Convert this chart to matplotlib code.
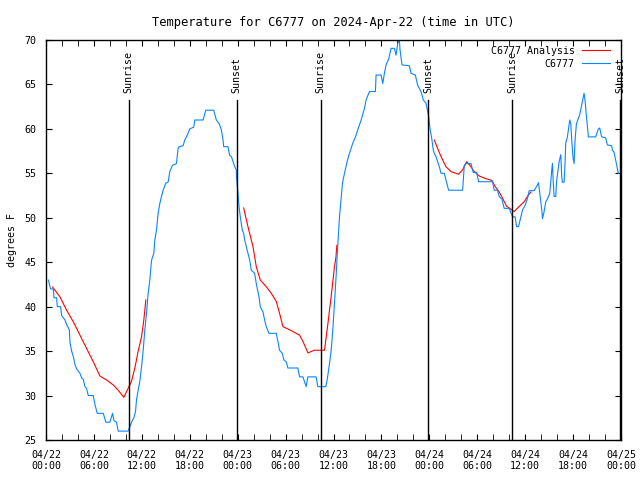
import numpy as np
import pandas as pd
import matplotlib
matplotlib.use('Agg')
import matplotlib.pyplot as plt
import matplotlib.dates as mdates

## observed temperature (hours after 2024-04-22 00:00 UTC, deg F)
obs_hours = [0.29, 0.58, 0.92, 1.0, 1.33, 1.42, 1.83, 1.96, 2.375, 2.58, 2.92, 3.0, 3.21, 3.42, 3.625, 3.83,
             4.25, 4.46, 4.67, 4.875, 5.08, 5.29, 5.92, 6.125, 6.42, 7.17, 7.5, 8.0, 8.33, 8.5, 8.83, 9.04,
             10.29, 10.5, 10.71, 11.0, 11.21, 11.33, 11.54, 11.75, 11.96, 12.17, 12.375, 12.58, 12.79, 13.0,
             13.21, 13.5, 13.625, 13.83, 14.04, 14.25, 14.46, 14.67, 15.0, 15.29, 15.5, 15.83, 16.33, 16.54,
             16.67, 17.17, 17.375, 17.58, 17.79, 18.0, 18.5, 18.625, 19.67, 20.0, 21.0, 21.33, 21.67, 21.96,
             22.17, 22.25, 22.79, 23.0, 23.21, 23.42, 23.625, 23.83, 23.85, 24.04,
             24.17, 24.33, 24.58, 24.75, 24.875, 25.08, 25.29, 25.5, 25.71, 26.125, 26.33, 26.67, 26.83,
             27.17, 27.375, 27.58, 27.92, 28.83, 29.04, 29.25, 29.58, 29.79, 30.08, 30.29, 31.54, 31.75,
             32.17, 32.58, 32.79, 33.83, 34.04, 35.04, 35.25, 35.5, 35.71, 35.92, 36.125, 36.33,
             36.5, 36.75, 37.125, 37.375, 37.75, 38.0, 38.42, 38.75, 39.04, 39.46, 39.875, 40.08,
             40.5, 41.25, 41.33, 41.96, 42.17, 42.375, 42.58, 42.92, 43.21, 43.625, 43.83, 44.04, 44.25,
             44.33, 44.58, 45.5, 45.71, 46.25, 46.54, 46.96, 47.25, 47.58, 47.92,
             48.08, 48.33, 48.5, 48.625, 48.83, 49.04, 49.25, 49.46, 49.875, 50.08, 50.42, 52.17, 52.375,
             52.58, 53.21, 53.5, 53.92, 54.17, 55.92, 56.125, 56.54, 56.75, 57.08, 57.375, 58.0, 58.42,
             58.75, 58.92, 59.17, 59.67, 60.0, 60.29, 60.5, 61.125, 61.54, 61.67, 61.83, 62.08, 62.17,
             62.375, 62.58, 62.79, 63.08, 63.33, 63.42, 63.5, 63.625, 63.83, 63.92, 64.25, 64.46, 64.58,
             64.67, 64.875, 65.0, 65.08, 65.29, 65.58, 65.71, 65.83, 66.0, 66.125, 66.25, 66.42, 66.67,
             66.83, 67.08, 67.375, 67.5, 67.67, 67.92, 68.83, 69.17, 69.33, 69.58, 70.08, 70.29, 70.83,
             70.92, 71.125, 71.33, 71.54, 71.67]
obs_temps = [43.0, 42.0, 42.0, 41.0, 41.0, 40.0, 40.0, 39.0, 38.5, 38.0, 37.4, 36.0, 35.0, 34.4, 33.5, 33.0,
             32.5, 32.0, 31.8, 31.0, 30.8, 30.0, 30.0, 29.0, 28.0, 28.0, 27.0, 27.0, 28.0, 27.2, 27.0, 26.0,
             26.0, 26.5, 27.0, 27.5, 28.2, 29.5, 30.6, 31.6, 33.2, 35.1, 37.4, 39.2, 41.5, 43.0,
             45.2, 46.0, 47.5, 48.6, 50.5, 51.6, 52.4, 53.1, 53.9, 54.0, 55.2, 55.9, 56.1, 57.8,
             58.0, 58.1, 58.75, 59.1, 59.5, 60.0, 60.2, 61.0, 61.0, 62.1, 62.1, 61.0, 60.6, 59.9,
             58.75, 58.0, 58.0, 57.0, 56.9, 56.3, 55.75, 55.4, 54.6, 52.75,
             51.25, 50.1, 48.6, 48.25, 47.5, 46.75, 46.0, 45.25, 44.1, 43.75, 42.6, 41.1, 40.0,
             39.4, 38.5, 37.75, 37.0, 37.0, 36.1, 35.1, 34.75, 34.0, 33.8, 33.1, 33.1, 32.1,
             32.1, 31.0, 32.1, 32.1, 31.0, 31.0, 32.0, 33.6, 35.1, 37.5, 40.4, 43.5,
             46.4, 50.1, 53.9, 55.0, 56.5, 57.25, 58.4, 59.1, 59.9, 61.0, 62.3, 63.25,
             64.2, 64.2, 66.06, 66.06, 65.1, 66.25, 67.2, 67.9, 69.06, 69.06, 68.3, 69.6, 70.0,
             68.9, 67.2, 67.1, 66.25, 66.06, 64.9, 64.2, 63.25, 62.9, 61.4,
             60.06, 58.75, 57.6, 57.25, 56.9, 56.3, 55.75, 55.0, 55.0, 54.25, 53.1, 53.1, 55.9,
             56.1, 56.1, 55.1, 55.1, 54.06, 54.06, 53.1, 53.1, 52.4, 52.1, 51.06, 51.06, 50.1,
             50.1, 49.0, 49.0, 50.9, 51.4, 52.2, 53.05, 53.05, 53.7, 53.95, 52.75, 50.9, 49.9,
             50.7, 51.8, 52.1, 52.75, 55.4, 56.1, 54.25, 52.4, 52.4, 54.0, 56.3, 57.1, 54.6,
             54.0, 54.0, 56.3, 58.4, 59.1, 61.0, 60.6, 58.75, 56.7, 56.1, 58.75, 60.6, 61.2,
             61.6, 62.7, 64.0, 63.2, 61.4, 59.1, 59.1, 60.0, 60.1, 59.1, 59.0, 58.2, 58.1,
             57.6, 57.4, 56.5, 55.6, 55.0]

## analysis, three pieces (NaN breaks the line)
ana_hours = [0.83, 1.75, 2.58, 3.42, 4.25, 5.08, 5.92, 6.75, 7.58, 8.42, 9.04, 9.75, 10.17, 10.71, 11.125,
             11.54, 11.96, 12.25, 12.5, 18.0,
             24.75, 25.29, 25.92, 26.33, 26.83, 27.58, 28.21, 28.83, 29.25, 29.67, 30.5, 31.75, 32.17,
             32.8, 33.6, 34.875, 35.3, 35.7, 36.125, 36.3, 36.42, 42.0,
             48.625, 49.04, 49.46, 50.08, 50.71, 51.67, 52.17, 52.67, 53.08, 53.625, 54.25, 55.08, 55.83,
             56.25, 56.75, 57.17, 57.67, 58.08, 58.625, 59.17, 59.875, 60.29, 60.71]
ana_temps = [42.2, 41.1, 39.6, 38.3, 36.8, 35.3, 33.8, 32.2, 31.75, 31.2, 30.6, 29.8, 30.6, 31.6, 33.1,
             35.0, 36.6, 38.5, 40.75, np.nan,
             51.1, 49.0, 46.75, 44.5, 43.0, 42.25, 41.5, 40.6, 39.25, 37.75, 37.4, 36.8, 36.1,
             34.8, 35.1, 35.1, 38.1, 41.1, 44.5, 45.5, 46.9, np.nan,
             58.75, 57.8, 56.9, 55.75, 55.2, 54.9, 55.4, 56.3, 55.9, 55.2, 54.7, 54.4, 54.2,
             53.5, 52.9, 52.2, 51.3, 51.06, 50.7, 51.2, 51.8, 52.4, 52.9]

sun_labels = ['Sunrise', 'Sunset', 'Sunrise', 'Sunset', 'Sunrise', 'Sunset']
sun_hours = [10.375, 23.875, 34.375, 47.875, 58.375, 71.875]

base = pd.Timestamp('2024-04-22 00:00')
t_obs = base + pd.to_timedelta(obs_hours, unit='h')
t_ana = base + pd.to_timedelta(ana_hours, unit='h')
t_sun = base + pd.to_timedelta(sun_hours, unit='h')

plt.rcParams['font.family'] = 'DejaVu Sans Mono'
plt.rcParams['font.size'] = 7.2

fig = plt.figure(figsize=(6.4, 4.8), dpi=100)
ax = fig.add_axes([46/640, 40/480, 575/640, 400/480])

ax.plot(t_ana, ana_temps, color='#ff0000', lw=0.8, label='C6777 Analysis')
ax.plot(t_obs, obs_temps, color='#0a84ff', lw=0.8, label='C6777')

for lab, t in zip(sun_labels, t_sun):
    ax.plot([t, t], [25, 63.3], color='black', lw=1.0)
    ax.text(t, 64.0, lab, rotation=90, ha='center', va='bottom')

ax.set_xlim(base, base + pd.Timedelta(hours=72))
ax.set_ylim(25, 70)
ax.set_yticks(np.arange(25, 71, 5))
ax.xaxis.set_major_locator(mdates.HourLocator(byhour=[0, 6, 12, 18]))
ax.xaxis.set_minor_locator(mdates.HourLocator(byhour=range(0, 24, 2)))
ax.xaxis.set_major_formatter(mdates.DateFormatter('%m/%d\n%H:%M'))
ax.tick_params(which='both', direction='in', top=True, right=True, length=4, pad=7)
for s in ax.spines.values():
    s.set_linewidth(1.0)

ax.set_ylabel('degrees F', labelpad=5)
ax.set_title('Temperature for C6777 on 2024-Apr-22 (time in UTC)', pad=10)
ax.legend(loc='upper right', bbox_to_anchor=(0.991, 1.0), frameon=False, markerfirst=False,
          handlelength=2.8, borderaxespad=0.2, labelspacing=0.3, handletextpad=0.7)

fig.savefig('out.png', dpi=100)
